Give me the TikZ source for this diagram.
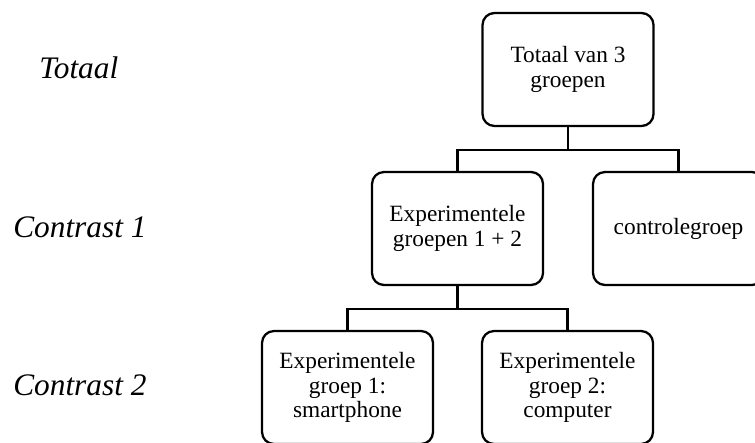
\documentclass[tikz,border=0pt]{standalone}
\usepackage{fontspec}
\setmainfont{Liberation Serif}
\begin{document}
\begin{tikzpicture}[x=0.75pt,y=-0.75pt,
  groupbox/.style={draw=black, line width=1.7pt, rounded corners=9pt,
    minimum width=128.25pt, minimum height=84.75pt, align=center,
    inner sep=0pt, font=\fontsize{17.5}{18.5}\selectfont},
  rowlabel/.style={anchor=base west, inner sep=0pt,
    font=\fontsize{23.5}{26}\selectfont\itshape},
  link/.style={line width=1.7pt}]
\useasboundingbox (0,0) rectangle (755,442);
\clip (0,0) rectangle (755,442);

% row labels
\node[rowlabel] (lt) at (39,79) {Totaal};
\node[rowlabel] (lc1) at (13,237) {Contrast 1};
\node[rowlabel] (lc2) at (13,395) {Contrast 2};

% group boxes
\node[groupbox] (top) at (568,69.5) {Totaal van 3\\groepen};
\node[groupbox] (exp) at (457.5,228.5) {Experimentele\\groepen 1 + 2};
\node[groupbox] (ctl) at (678.5,228.5) {controlegroep};
\node[groupbox] (sm) at (347.5,387.5) {Experimentele\\groep 1:\\smartphone};
\node[groupbox] (pc) at (567.5,387.5) {Experimentele\\groep 2:\\computer};

% tree connectors
\draw[link] (top.south) -- ++(0,23) coordinate (j1);
\draw[link] (exp.north) |- (j1) -| (ctl.north);
\draw[link] (exp.south) -- ++(0,23) coordinate (j2);
\draw[link] (sm.north) |- (j2) -| (pc.north);
\end{tikzpicture}
\end{document}
